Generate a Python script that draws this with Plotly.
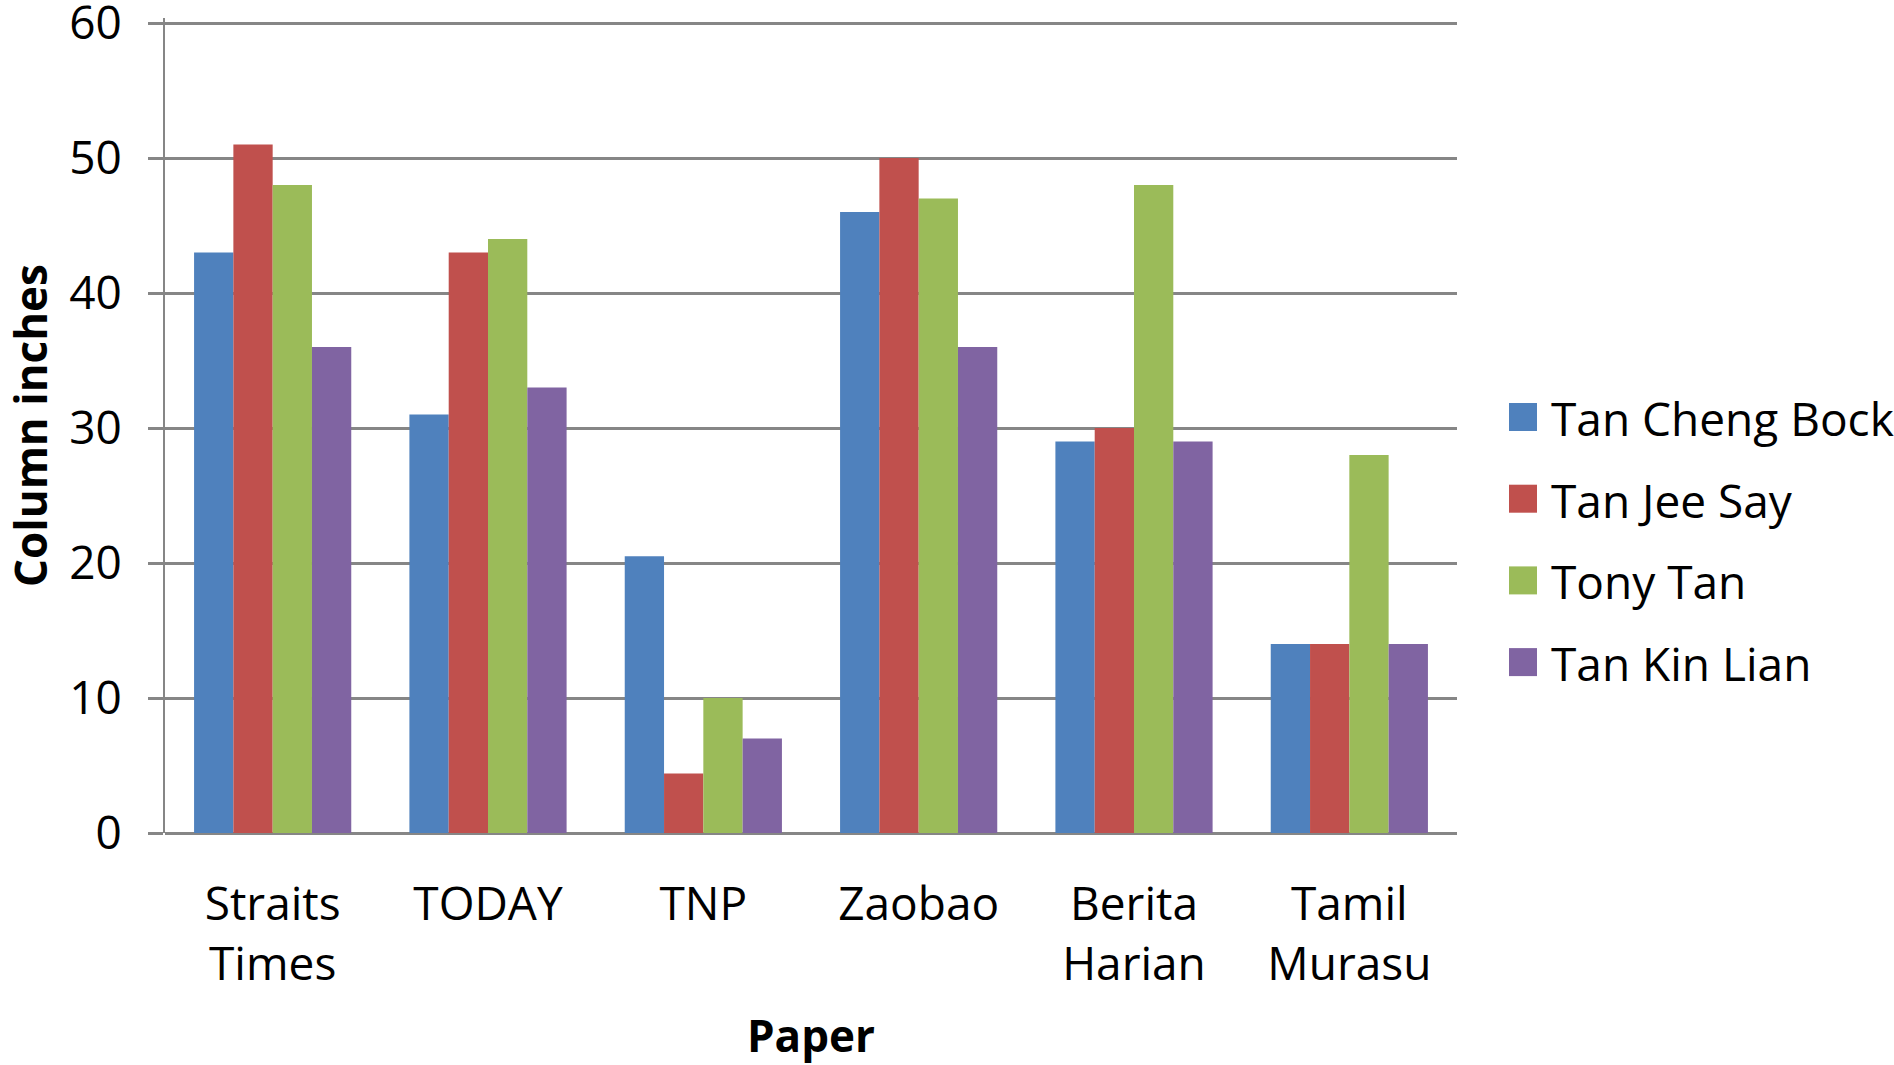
import plotly.graph_objects as go

# ---- data ----
papers = ["Straits<br>Times", "TODAY", "TNP", "Zaobao", "Berita<br>Harian", "Tamil<br>Murasu"]
candidates = ["Tan Cheng Bock", "Tan Jee Say", "Tony Tan", "Tan Kin Lian"]
tan_cheng_bock = [43, 31, 20.5, 46, 29, 14]
tan_jee_say = [51, 43, 4.4, 50, 30, 14]
tony_tan = [48, 44, 10, 47, 48, 28]
tan_kin_lian = [36, 33, 7, 36, 29, 14]
y_ticks = [0, 10, 20, 30, 40, 50, 60]
x_title = "Paper"
y_title = "Column inches"

series = [tan_cheng_bock, tan_jee_say, tony_tan, tan_kin_lian]
colors = ["#4F81BD", "#C0504D", "#9BBB59", "#8064A2"]

W, H = 1894, 1065
ML, MR, MT, MB = 165, 437, 18, 232
PW, PH = W - ML - MR, H - MT - MB
FONT = "Open Sans"
GRID = "#868686"
Y_TOP = 60 + 5 / 13.5  # small headroom so the 60 gridline is drawn

fig = go.Figure()
for name, vals, col in zip(candidates, series, colors):
    fig.add_trace(go.Bar(x=papers, y=vals, name=name, marker=dict(color=col, line=dict(width=0)),
                         showlegend=False))


def px2x(px):
    return (px - ML) / PW


def py2y(py):
    return (H - MB - py) / PH


# custom legend (large square swatches)
shapes = []
annotations = []
for i, (name, col) in enumerate(zip(candidates, colors)):
    cy = 417 + 81.7 * i
    shapes.append(dict(type="rect", xref="paper", yref="paper",
                       x0=px2x(1509), x1=px2x(1537), y0=py2y(cy + 14), y1=py2y(cy - 14),
                       fillcolor=col, line=dict(width=0)))
    annotations.append(dict(xref="paper", yref="paper", x=px2x(1549), y=py2y(cy + 1),
                            xanchor="left", yanchor="middle", showarrow=False,
                            text=name, font=dict(family=FONT, size=46, color="black")))

fig.update_layout(
    width=W, height=H,
    margin=dict(l=ML, r=MR, t=MT, b=MB, autoexpand=False),
    paper_bgcolor="white", plot_bgcolor="white",
    barmode="group", bargap=0.27, bargroupgap=0,
    font=dict(family=FONT, color="black"),
    shapes=shapes, annotations=annotations,
    xaxis=dict(
        showgrid=False, showline=False, zeroline=False, ticks="",
        tickfont=dict(family=FONT, size=46, color="black"),
        ticklabelstandoff=40,
        title=dict(text=x_title, font=dict(family=FONT, size=44, color="black", weight="bold"), standoff=32),
        automargin=False,
    ),
    yaxis=dict(
        range=[0, Y_TOP], tickvals=y_ticks,
        showgrid=True, gridcolor=GRID, gridwidth=3,
        zeroline=True, zerolinecolor=GRID, zerolinewidth=3,
        showline=True, linecolor=GRID, linewidth=2,
        ticks="outside", ticklen=15, tickwidth=3, tickcolor=GRID,
        tickfont=dict(family=FONT, size=46, color="black"),
        ticklabelstandoff=17, ticklabeloverflow="allow",
        title=dict(text=y_title, font=dict(family=FONT, size=44, color="black", weight="bold"), standoff=27),
        automargin=False,
    ),
)

fig.write_html("out.html", config={"displayModeBar": False},
               post_script="document.body.style.margin='0';document.body.style.overflow='hidden';")
